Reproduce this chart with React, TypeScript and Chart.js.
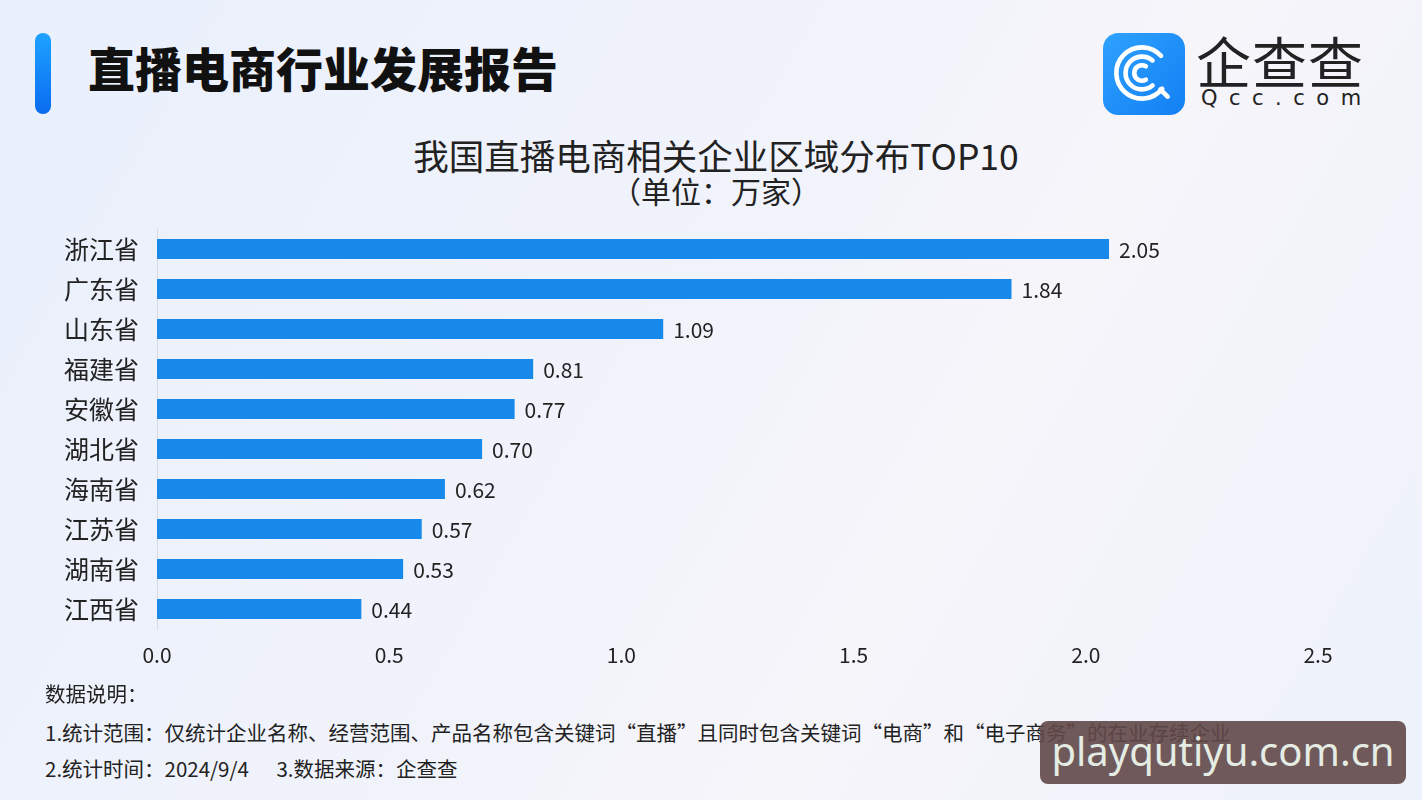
import React, { useEffect, useRef } from "react";
import { Chart, registerables } from "chart.js";

Chart.register(...registerables);

const categories = ["浙江省", "广东省", "山东省", "福建省", "安徽省", "湖北省", "海南省", "江苏省", "湖南省", "江西省"];
const values = [2.05, 1.84, 1.09, 0.81, 0.77, 0.7, 0.62, 0.57, 0.53, 0.44];
const xMin = 0;
const xMax = 2.5;
const xStep = 0.5;

const FONT = '"Noto Sans CJK SC", "Noto Sans", sans-serif';

function arcPath(cx: number, cy: number, r: number, a0: number, a1: number) {
  const rad = (d: number) => (d * Math.PI) / 180;
  const x0 = cx + r * Math.cos(rad(a0));
  const y0 = cy + r * Math.sin(rad(a0));
  const x1 = cx + r * Math.cos(rad(a1));
  const y1 = cy + r * Math.sin(rad(a1));
  return `M ${x0} ${y0} A ${r} ${r} 0 1 0 ${x1} ${y1}`;
}

function Logo() {
  return (
    <svg width={82} height={82} viewBox="0 0 80 80" style={{ position: "absolute", left: 1103, top: 33 }}>
      <defs>
        <linearGradient id="lg" x1="0" y1="0" x2="1" y2="1">
          <stop offset="0" stopColor="#2ea2ff" />
          <stop offset="1" stopColor="#137ff3" />
        </linearGradient>
      </defs>
      <rect x={0} y={0} width={80} height={80} rx={15} fill="url(#lg)" />
      <g fill="none" stroke="#fff" strokeWidth={4.5} strokeLinecap="round">
        <path d={arcPath(38, 39, 25, -42, 38)} />
        <path d={arcPath(38, 39, 16, -50, 50)} />
        <path d={arcPath(38, 39, 7.5, -60, 60)} />
        <path d="M 56 55 L 63 62" />
      </g>
    </svg>
  );
}

export default function App() {
  const canvasRef = useRef<HTMLCanvasElement | null>(null);

  useEffect(() => {
    if (!canvasRef.current) return;
    const valueLabels = {
      id: "valueLabels",
      afterDatasetsDraw(chart: any) {
        const ctx = chart.ctx;
        const meta = chart.getDatasetMeta(0);
        ctx.save();
        ctx.font = `21px ${FONT}`;
        ctx.fillStyle = "#222";
        ctx.textAlign = "left";
        ctx.textBaseline = "middle";
        meta.data.forEach((bar: any, i: number) => {
          ctx.fillText(values[i].toFixed(2), bar.x + 10, bar.y + 1);
        });
        ctx.restore();
      },
    };
    const chart = new Chart(canvasRef.current, {
      type: "bar",
      data: {
        labels: categories,
        datasets: [
          {
            data: values,
            backgroundColor: "#1689ea",
            borderWidth: 0,
            barPercentage: 0.5,
            categoryPercentage: 1,
          },
        ],
      },
      options: {
        indexAxis: "y",
        animation: false,
        responsive: false,
        maintainAspectRatio: false,
        layout: { padding: { top: 14, right: 104, bottom: 0, left: 0 } },
        plugins: { legend: { display: false }, tooltip: { enabled: false }, title: { display: false } },
        scales: {
          x: {
            min: xMin,
            max: xMax,
            ticks: {
              stepSize: xStep,
              color: "#222",
              font: { size: 21, family: FONT },
              padding: 13,
              callback: (v: any) => Number(v).toFixed(1),
            },
            grid: { display: false, drawTicks: false },
            border: { display: false },
            afterFit: (s: any) => {
              s.height = 51;
              s.paddingLeft = 0;
              s.paddingRight = 0;
            },
          },
          y: {
            ticks: {
              color: "#222",
              font: { size: 25, family: FONT },
              padding: 18,
            },
            grid: { display: false, drawTicks: false },
            border: { display: true, color: "#d6dbe4", width: 1 },
            afterFit: (s: any) => {
              s.width = 157;
              s.paddingTop = 0;
              s.paddingBottom = 0;
            },
          },
        },
      },
      plugins: [valueLabels],
    });
    return () => chart.destroy();
  }, []);

  const note = { position: "absolute" as const, left: 45, fontSize: 20.5, lineHeight: "28px", color: "#222", whiteSpace: "pre" as const };

  return (
    <div
      style={{
        position: "absolute",
        left: 0,
        top: 0,
        width: 1422,
        height: 800,
        overflow: "hidden",
        fontFamily: FONT,
        background: "linear-gradient(120deg, #e9f0fc 0%, #f1f3fb 45%, #f6f5fa 65%, #edf2fb 100%)",
      }}
    >
      <div
        style={{
          position: "absolute",
          left: 35,
          top: 33,
          width: 16,
          height: 81,
          borderRadius: 8,
          background: "linear-gradient(180deg, #1ea2ff, #0a6cf0)",
        }}
      />
      <div
        style={{
          position: "absolute",
          left: 88,
          top: 35,
          fontSize: 47,
          fontWeight: 900,
          lineHeight: "64px",
          color: "#111",
          whiteSpace: "nowrap",
        }}
      >
        直播电商行业发展报告
      </div>
      <Logo />
      <div
        style={{
          position: "absolute",
          left: 1196,
          top: 27,
          fontSize: 55,
          lineHeight: "64px",
          color: "#222",
          fontWeight: 400,
          whiteSpace: "nowrap",
          letterSpacing: 1,
        }}
      >
        企查查
      </div>
      <div
        style={{
          position: "absolute",
          left: 1201,
          top: 84,
          fontSize: 21,
          lineHeight: "28px",
          color: "#222",
          letterSpacing: 11.5,
          whiteSpace: "nowrap",
          fontFamily: '"DejaVu Sans", sans-serif',
        }}
      >
        Qcc.com
      </div>
      <div
        style={{
          position: "absolute",
          left: 0,
          width: 1432,
          top: 131,
          textAlign: "center",
          fontSize: 35.5,
          lineHeight: "48px",
          color: "#222",
          whiteSpace: "nowrap",
        }}
      >
        我国直播电商相关企业区域分布TOP10
      </div>
      <div
        style={{
          position: "absolute",
          left: 0,
          width: 1432,
          top: 169,
          textAlign: "center",
          fontSize: 30,
          lineHeight: "42px",
          color: "#222",
          whiteSpace: "nowrap",
        }}
      >
        （单位：万家）
      </div>
      <canvas
        ref={canvasRef}
        width={1422}
        height={465}
        style={{ position: "absolute", left: 0, top: 215, width: 1422, height: 465 }}
      />
      <div style={{ ...note, top: 679 }}>数据说明：</div>
      <div style={{ ...note, top: 718 }}>
        1.统计范围：仅统计企业名称、经营范围、产品名称包含关键词“直播”且同时包含关键词“电商”和“电子商务”的在业存续企业
      </div>
      <div style={{ ...note, top: 754 }}>{"2.统计时间：2024/9/4      3.数据来源：企查查"}</div>
      <div
        style={{
          position: "absolute",
          left: 1040,
          top: 721,
          width: 366,
          height: 63,
          borderRadius: 8,
          background: "rgba(98, 72, 72, 0.9)",
          color: "#e4ece4",
          fontSize: 40,
          lineHeight: "60px",
          textAlign: "center",
          whiteSpace: "nowrap",
          fontFamily: '"Noto Sans", sans-serif',
        }}
      >
        playqutiyu.com.cn
      </div>
    </div>
  );
}
